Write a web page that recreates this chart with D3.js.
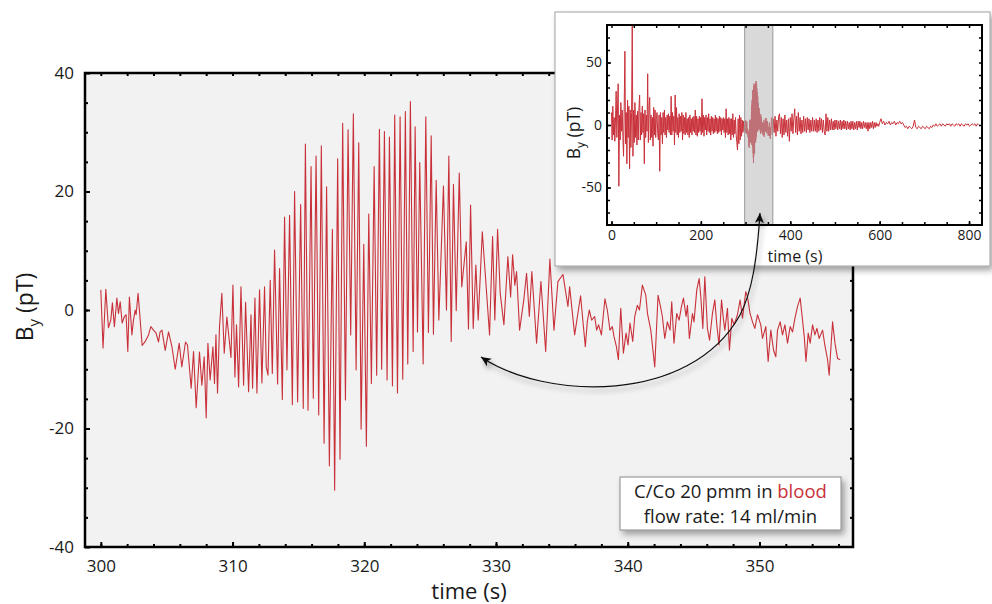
<!DOCTYPE html>
<html>
<head>
<meta charset="utf-8">
<script src="https://cdn.jsdelivr.net/npm/d3@7"></script>
<style>
  body { margin: 0; background: #fff; }
  text { font-family: "Open Sans", sans-serif; }
</style>
</head>
<body>
<div id="chart"></div>
<script>
// main trace, 300-356 s
var time = [
  300.00,300.17,300.38,300.58,300.76,300.88,301.03,301.22,301.34,301.47,301.62,301.79,301.92,302.05,302.17,302.36,302.48,302.61,302.68,302.83,
  302.99,303.14,303.37,303.62,303.80,304.00,304.20,304.38,304.50,304.64,304.89,305.14,305.40,305.65,305.95,306.15,306.43,306.58,306.86,307.04,
  307.24,307.49,307.67,307.85,308.00,308.13,308.30,308.51,308.63,308.74,308.86,309.01,309.19,309.37,309.57,309.75,309.88,310.03,310.18,310.30,
  310.46,310.64,310.84,310.99,311.22,311.40,311.52,311.70,311.85,312.05,312.23,312.43,312.56,312.69,312.86,313.02,313.19,313.42,313.57,
  313.78,313.95,314.13,314.33,314.54,314.71,314.94,315.17,315.37,315.53,315.73,315.96,316.13,316.34,316.54,316.74,316.95,317.14,317.35,317.58,
  317.75,317.98,318.16,318.36,318.57,318.77,318.97,319.17,319.38,319.58,319.76,319.96,320.16,320.34,320.54,320.75,320.94,321.15,321.32,321.53,
  321.73,321.91,322.14,322.31,322.52,322.72,322.92,323.12,323.30,323.50,323.71,323.86,324.04,324.21,324.47,324.67,324.87,325.08,325.25,325.46,
  325.66,326.01,326.24,326.42,326.60,326.77,326.98,327.21,327.40,327.74,327.91,328.07,328.27,328.47,328.65,328.96,329.51,329.74,329.91,330.12,
  330.32,330.60,330.90,331.11,331.26,331.43,331.56,331.79,332.11,332.32,332.53,332.72,333.08,333.41,333.77,334.09,334.40,334.70,335.08,335.46,
  335.59,335.97,336.42,336.78,336.93,337.08,337.26,337.49,337.64,337.79,338.00,338.27,338.45,338.65,338.83,338.96,339.14,339.29,339.47,339.67,
  339.87,340.02,340.17,340.38,340.53,340.73,340.89,341.11,341.37,341.50,341.75,342.05,342.30,342.51,342.63,342.81,343.01,343.21,343.34,343.51,
  343.72,343.90,344.08,344.23,344.43,344.53,344.68,344.91,345.03,345.24,345.42,345.55,345.70,345.85,346.05,346.21,346.43,346.61,346.76,346.93,
  347.12,347.27,347.37,347.57,347.72,347.90,348.07,348.33,348.53,348.71,348.96,349.09,349.29,349.47,349.65,349.85,350.10,350.23,350.48,350.66,
  350.86,351.07,351.24,351.37,351.57,351.75,351.93,352.13,352.33,352.51,352.69,352.89,353.09,353.24,353.40,353.53,353.70,353.85,354.03,354.21,
  354.36,354.53,354.79,354.96,355.17,355.29,355.55,355.73,355.93,356.13
];
var by = [
  3.4,-6.4,3.5,-3.0,-1.7,1.2,-2.8,2.0,-0.6,1.4,-2.2,-1.1,-0.8,-7.0,2.2,-4.2,-1.7,0.0,-0.8,2.8,
  -1.7,-6.0,-5.3,-4.2,-2.8,-3.4,-3.9,-5.4,-3.7,-3.4,-6.8,-3.7,-6.2,-10.0,-5.6,-9.6,-5.4,-5.9,-13.2,-7.0,
  -16.5,-7.1,-12.7,-7.9,-18.2,-5.6,-11.8,-6.2,-12.4,-4.2,-14.0,-2.8,2.8,-7.3,-1.2,-5.1,-8.0,4.2,-11.3,-2.5,
  -13.0,3.9,-12.7,1.3,-13.8,-0.8,-13.2,2.0,-14.0,3.4,-12.3,3.9,-9.6,-11.0,5.0,-10.7,10.1,-12.5,7.0,
  -15.1,15.7,-10.1,16.0,-16.0,20.0,-15.5,17.8,-16.6,28.0,-16.9,24.2,-14.9,26.0,-17.7,27.7,-22.5,20.8,-26.3,13.6,
  -30.4,25.5,-25.2,31.5,-15.2,30.4,-4.2,33.1,-10.1,28.2,-20.1,11.1,-23.0,16.2,-12.4,24.2,-11.0,30.5,-10.0,30.1,
  -11.8,29.2,-12.8,32.9,-14.0,32.6,-11.7,33.5,-9.1,35.2,-7.0,30.9,-3.7,24.9,-9.1,32.6,-3.8,29.4,-4.1,21.9,
  -1.7,20.9,0.0,26.0,-5.3,21.2,-0.1,23.1,3.9,11.5,-3.2,17.7,-3.1,7.6,-1.7,13.2,-4.2,12.4,-1.7,13.6,
  2.8,-2.5,9.0,2.2,9.3,4.2,6.5,-3.4,1.7,6.2,-1.1,6.5,-5.6,4.8,-7.0,8.6,-3.4,4.8,6.0,0.6,
  3.9,-4.2,2.4,-6.2,-2.0,0.0,-1.7,-1.1,-3.4,-2.5,-4.2,1.9,0.0,-3.4,-2.8,-4.5,-6.2,-8.4,0.3,-7.3,
  -3.9,-5.9,-2.2,-5.3,-1.1,0.8,0.0,4.2,2.5,-0.6,-3.4,-9.6,2.5,0.3,-1.1,-4.8,-2.0,-3.4,1.4,-5.6,
  -0.6,-1.7,0.6,2.0,-1.1,0.8,-4.8,-0.6,-2.0,3.4,5.3,2.2,-3.1,5.6,-3.1,-5.1,-0.6,1.7,-2.5,-5.9,
  1.7,-1.7,-3.4,0.3,-6.8,-1.4,-2.5,-0.8,1.7,-1.4,3.1,2.2,-0.6,-2.0,-3.1,-0.8,-2.5,-4.8,-2.8,-8.7,
  -3.4,-6.8,-7.9,-3.4,-2.0,-4.2,-2.5,-5.6,-2.8,-3.7,-1.4,0.6,2.0,-1.1,-4.5,-8.7,-3.9,-5.6,-2.5,-4.2,
  -3.1,-4.8,-3.4,-5.9,-8.4,-11.0,-2.0,-5.6,-8.2,-8.4
];

// whole recording for the inset: before and after the zoomed window
var earlyTime = [
  0,1.5,3,4.5,6,7.5,9,10.5,12,13.5,
  15,16.5,18,19.5,21,22.5,24,25.5,27,28.5,
  30,31.5,33,34.5,36,37.5,39,40.5,42,43.5,
  45,46.5,48,49.5,51,52.5,54,55.5,57,58.5,
  60,61.5,63,64.5,66,67.5,69,70.5,72,73.5,
  75,76.5,78,79.5,81,82.5,84,85.5,87,88.5,
  90,91.5,93,94.5,96,97.5,99,100.5,102,103.5,
  105,106.5,108,109.5,111,112.5,114,115.5,117,118.5,
  120,121.5,123,124.5,126,127.5,129,130.5,132,133.5,
  135,136.5,138,139.5,141,142.5,144,145.5,147,148.5,
  150,151.5,153,154.5,156,157.5,159,160.5,162,163.5,
  165,166.5,168,169.5,171,172.5,174,175.5,177,178.5,
  180,181.5,183,184.5,186,187.5,189,190.5,192,193.5,
  195,196.5,198,199.5,201,202.5,204,205.5,207,208.5,
  210,211.5,213,214.5,216,217.5,219,220.5,222,223.5,
  225,226.5,228,229.5,231,232.5,234,235.5,237,238.5,
  240,241.5,243,244.5,246,247.5,249,250.5,252,253.5,
  255,256.5,258,259.5,261,262.5,264,265.5,267,268.5,
  270,271.5,273,274.5,276,277.5,279,280.5,282,283.5,
  285,286.5,288,289.5,291,292.5,294,295.5,297
];
var earlyBy = [
  10,-12,15,-8,6,-13,4,27,-10,12,
  33,-49,8,-12,18,-5,12,-9,-25,14,
  59,-15,10,-31,20,-10,15,-35,12,-18,
  10,82,-25,12,-14,18,-10,8,-16,11,
  -12,14,24,-12,10,-8,15,-6,9,-31,
  12,-10,8,-5,41,-14,12,22,-12,8,
  -10,6,-17,14,-8,12,-10,5,10,-7,
  -12,8,-37,10,-8,6,-15,10,-6,12,
  -8,6,-10,8,-4,9,-6,7,-8,23,
  -8,10,-5,7,-16,24,-6,14,-8,6,
  -10,9,-6,7,-5,10,-12,8,-7,6,
  -8,10,-6,5,-8,6,-10,8,-6,5,
  -8,6,-5,7,-6,12,-8,7,-9,5,
  -6,7,-5,6,-8,21,-6,8,-9,6,
  -4,8,-8,6,-5,9,-6,5,-8,7,
  -5,6,-7,5,-6,8,-5,6,-7,5,
  -6,7,-5,6,-8,5,-4,6,-6,5,
  -10,13,-6,5,-8,6,-7,5,-12,5,
  -8,9,-10,4,-7,6,-8,-14,-20,5,
  -15,8,-12,6,-9,4,-6,3,-5
];
var lateTime = [
  358,360,362,364,366,368,370,372,374,376,
  378,380,382,384,386,388,390,392,394,396,
  398,400,402,404,406,408,410,412,414,416,
  418,420,422,424,426,428,430,432,434,436,
  438,440,442,444,446,448,450,452,454,456,
  458,460,462,464,466,468,470,472,474,476,
  478,480,482,484,486,488,490,492,494,496,
  498,500,502,504,506,508,510,512,514,516,
  518,520,522,524,526,528,530,532,534,536,
  538,540,542,544,546,548,550,552,554,556,
  558,560,562,564,566,568,570,572,574,576,
  578,580,582,584,586,588,590,592,594,596,
  598,600,
  603,606,609,612,615,618,621,624,627,630,
  633,636,639,642,645,648,651,654,657,660,
  663,666,669,672,675,678,681,684,687,690,
  693,696,699,702,705,708,711,714,717,720,
  723,726,729,732,735,738,741,744,747,750,
  753,756,759,762,765,768,771,774,777,780,
  783,786,789,792,795,798,801,804,807,810,
  813,816,819,821
];
var lateBy = [
  6,-8,5,-6,7,-9,4,-5,7,9,
  -7,6,-10,5,-8,8,-6,4,-9,5,
  -13,6,-5,9,-7,5,13,-6,7,-8,
  10,-5,6,-7,4,-6,7,-5,5,-6,
  6,-4,5,-6,4,-5,6,-5,4,-5,
  5,-6,4,-5,6,-4,5,-6,4,-5,
  -8,9,-5,6,-5,4,-4,5,-4,3,
  -4,4,-3,4,-4,3,-3,4,-4,3,
  -3,4,-3,3,-4,3,-3,2,-4,3,
  -3,3,-4,2,-3,3,-4,3,-2,3,
  -3,2,-3,3,-2,2,-3,2,-5,2,
  -3,2,-2,3,-3,2,-2,2,-1,1,
  -1,2,
  5,1,3,0,2,1,3,0,2,1,
  3,0,2,1,3,1,2,0,-2,-1,
  -3,-1,-2,-3,-1,4,-2,-3,-1,-2,
  -3,-1,-2,-3,-1,-2,-3,-1,-2,0,
  -1,1,-1,0,1,-1,1,0,-1,1,
  0,1,-1,1,0,-1,1,0,1,-1,
  1,0,-1,1,0,1,-1,0,1,0,
  1,-1,1,0
];

var mainXTicks = [300, 310, 320, 330, 340, 350];
var mainYTicks = [-40, -20, 0, 20, 40];
var insetXTicks = [0, 200, 400, 600, 800];
var insetYTicks = [-50, 0, 50];
var zoomWindow = [298, 361];
var legendLine1 = ["C/Co 20 pmm in ", "blood"];
var legendLine2 = "flow rate: 14 ml/min";

var red = "#c9313a";
var fmt = function(d) { return String(d); };

var svg = d3.select("#chart").append("svg")
    .attr("width", 992)
    .attr("height", 604);

var defs = svg.append("defs");
defs.append("filter").attr("id", "shadow")
    .attr("x", "-10%").attr("y", "-10%").attr("width", "130%").attr("height", "140%")
  .append("feDropShadow")
    .attr("dx", 3).attr("dy", 4).attr("stdDeviation", 3)
    .attr("flood-color", "#000").attr("flood-opacity", 0.35);
defs.append("filter").attr("id", "ashadow")
    .attr("x", "-20%").attr("y", "-20%").attr("width", "140%").attr("height", "160%")
  .append("feDropShadow")
    .attr("dx", 2).attr("dy", 4).attr("stdDeviation", 2.5)
    .attr("flood-color", "#000").attr("flood-opacity", 0.35);
defs.append("marker").attr("id", "head")
    .attr("viewBox", "-1 -5 12 10")
    .attr("refX", 10).attr("refY", 0)
    .attr("markerWidth", 12).attr("markerHeight", 10)
    .attr("markerUnits", "userSpaceOnUse")
    .attr("orient", "auto-start-reverse")
  .append("path")
    .attr("d", "M0,-4.5L10,0L0,4.5L2.5,0Z")
    .attr("fill", "#111");

// draws a boxed frame with inward ticks on all four sides
function frame(g, x, y, o) {
  var x0 = x.range()[0], x1 = x.range()[1],
      y0 = y.range()[0], y1 = y.range()[1];

  function strip(sel) {
    sel.select(".domain").remove();
    sel.selectAll("line").attr("stroke", "#000").attr("stroke-width", o.tickWidth);
    sel.selectAll("text").attr("font-family", "'Open Sans', sans-serif")
        .attr("font-size", o.fontSize).attr("fill", "#1a1a1a");
  }

  g.append("g").attr("transform", "translate(0," + y0 + ")")
      .call(d3.axisBottom(x).tickValues(o.xMajor).tickSize(-o.major).tickPadding(o.xPad).tickFormat(fmt))
      .call(strip);
  g.append("g").attr("transform", "translate(0," + y0 + ")")
      .call(d3.axisBottom(x).tickValues(o.xMinor).tickSize(-o.minor).tickFormat(""))
      .call(strip);
  g.append("g").attr("transform", "translate(0," + y1 + ")")
      .call(d3.axisTop(x).tickValues(o.xMinor).tickSize(-o.minor).tickFormat(""))
      .call(strip);
  g.append("g").attr("transform", "translate(" + x0 + ",0)")
      .call(d3.axisLeft(y).tickValues(o.yMajor).tickSize(-o.major).tickPadding(o.yPad).tickFormat(fmt))
      .call(strip);
  g.append("g").attr("transform", "translate(" + x0 + ",0)")
      .call(d3.axisLeft(y).tickValues(o.yMinor).tickSize(-o.minor).tickFormat(""))
      .call(strip);
  g.append("g").attr("transform", "translate(" + x1 + ",0)")
      .call(d3.axisRight(y).tickValues(o.yMinor).tickSize(-o.minor).tickFormat(""))
      .call(strip);

  g.append("rect")
      .attr("x", x0).attr("y", y1)
      .attr("width", x1 - x0).attr("height", y0 - y1)
      .attr("fill", "none")
      .attr("stroke", "#000")
      .attr("stroke-width", o.frameWidth);
}

// ---------- main chart ----------
var x = d3.scaleLinear().domain([298.8, 357.1]).range([85, 853]);
var y = d3.scaleLinear().domain([-40, 40]).range([547, 73]);

var main = svg.append("g");
main.append("rect")
    .attr("x", 85).attr("y", 73)
    .attr("width", 768).attr("height", 474)
    .attr("fill", "#f2f2f2");

var line = d3.line()
    .x(function(d, i) { return x(time[i]); })
    .y(function(d) { return y(d); });

main.append("path")
    .datum(by)
    .attr("d", line)
    .attr("fill", "none")
    .attr("stroke", red)
    .attr("stroke-width", 1.1)
    .attr("stroke-linejoin", "round");

frame(main, x, y, {
  xMajor: mainXTicks, xMinor: d3.range(300, 357, 2),
  yMajor: mainYTicks, yMinor: d3.range(-35, 40, 5),
  major: 5, minor: 3, tickWidth: 2, frameWidth: 2.5,
  fontSize: "17px", xPad: 13, yPad: 11
});

main.append("text")
    .attr("x", 469).attr("y", 599)
    .attr("text-anchor", "middle")
    .attr("font-size", "22px")
    .attr("fill", "#1a1a1a")
    .text("time (s)");

var ylab = main.append("text")
    .attr("transform", "translate(33,307) rotate(-90)")
    .attr("text-anchor", "middle")
    .attr("font-size", "23px")
    .attr("fill", "#1a1a1a");
ylab.append("tspan").text("B");
ylab.append("tspan").attr("dy", 6).attr("font-size", "15px").text("y");
ylab.append("tspan").attr("dy", -6).text(" (pT)");

// legend box
var leg = main.append("g");
leg.append("rect")
    .attr("x", 620).attr("y", 477)
    .attr("width", 221).attr("height", 53)
    .attr("fill", "#fff")
    .attr("stroke", "#8a8a8a")
    .attr("stroke-width", 1)
    .attr("filter", "url(#shadow)");
var l1 = leg.append("text")
    .attr("x", 730.5).attr("y", 498)
    .attr("text-anchor", "middle")
    .attr("font-size", "18.5px")
    .attr("fill", "#1a1a1a");
l1.append("tspan").text(legendLine1[0]);
l1.append("tspan").attr("fill", red).text(legendLine1[1]);
leg.append("text")
    .attr("x", 730.5).attr("y", 523)
    .attr("text-anchor", "middle")
    .attr("font-size", "18.5px")
    .attr("fill", "#1a1a1a")
    .text(legendLine2);

// ---------- inset ----------
var ins = svg.append("g");
ins.append("rect")
    .attr("x", 555).attr("y", 12)
    .attr("width", 435).attr("height", 254)
    .attr("fill", "#fff")
    .attr("stroke", "#a0a0a0")
    .attr("stroke-width", 1)
    .attr("filter", "url(#shadow)");

var ix = d3.scaleLinear().domain([-10, 829]).range([607, 982]);
var iy = d3.scaleLinear().domain([-80, 80]).range([225, 25]);

var allTime = earlyTime.concat(time, lateTime);
var allBy = earlyBy.concat(by, lateBy);

ins.append("clipPath").attr("id", "iclip")
  .append("rect").attr("x", 607).attr("y", 25).attr("width", 375).attr("height", 200);

ins.append("path")
    .datum(allBy)
    .attr("clip-path", "url(#iclip)")
    .attr("d", d3.line()
        .x(function(d, i) { return ix(allTime[i]); })
        .y(function(d) { return iy(d); }))
    .attr("fill", "none")
    .attr("stroke", red)
    .attr("stroke-width", 1)
    .attr("stroke-linejoin", "round");

ins.append("rect")
    .attr("x", ix(zoomWindow[0])).attr("y", 25)
    .attr("width", ix(zoomWindow[1]) - ix(zoomWindow[0])).attr("height", 200)
    .attr("fill", "#b4b4b4")
    .attr("fill-opacity", 0.5)
    .attr("stroke", "#999")
    .attr("stroke-width", 1);

frame(ins, ix, iy, {
  xMajor: insetXTicks, xMinor: d3.range(0, 830, 50),
  yMajor: insetYTicks, yMinor: d3.range(-70, 80, 10),
  major: 4, minor: 3, tickWidth: 1.5, frameWidth: 2,
  fontSize: "14px", xPad: 5, yPad: 5
});

ins.append("text")
    .attr("x", 795).attr("y", 262)
    .attr("text-anchor", "middle")
    .attr("font-size", "16px")
    .attr("fill", "#1a1a1a")
    .text("time (s)");

var iyl = ins.append("text")
    .attr("transform", "translate(580,133) rotate(-90)")
    .attr("text-anchor", "middle")
    .attr("font-size", "17.5px")
    .attr("fill", "#1a1a1a");
iyl.append("tspan").text("B");
iyl.append("tspan").attr("dy", 5).attr("font-size", "12px").text("y");
iyl.append("tspan").attr("dy", -5).text(" (pT)");

// curved double arrow linking window and zoom
svg.append("path")
    .attr("d", "M481,357C545,400 690,405 740,315C752,292 757,260 760,213")
    .attr("fill", "none")
    .attr("stroke", "#111")
    .attr("stroke-width", 1.2)
    .attr("marker-start", "url(#head)")
    .attr("marker-end", "url(#head)")
    .attr("filter", "url(#ashadow)");
</script>
</body>
</html>
